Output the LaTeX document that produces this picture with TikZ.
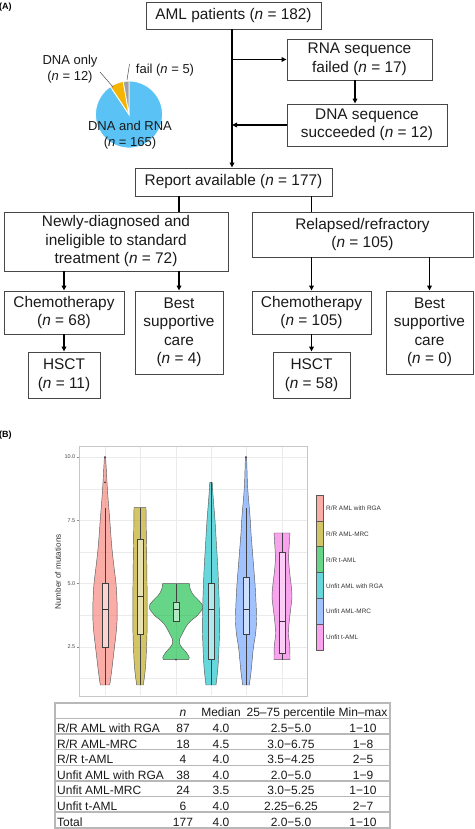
\documentclass[tikz,border=0pt]{standalone}
\usepackage{fontspec}
\setmainfont{Liberation Sans}
\usetikzlibrary{arrows.meta}
\definecolor{pieblue}{HTML}{5BC2F5}
\definecolor{pieyellow}{HTML}{F4B400}
\definecolor{piegrey}{HTML}{A0A0A0}
\definecolor{vA}{HTML}{F8766D}
\definecolor{vB}{HTML}{B79F00}
\definecolor{vC}{HTML}{00BA38}
\definecolor{vD}{HTML}{00BFC4}
\definecolor{vE}{HTML}{619CFF}
\definecolor{vF}{HTML}{F564E3}
\definecolor{txt}{HTML}{1A1A1A}
\definecolor{gridc}{HTML}{EBEBEB}
\definecolor{tline}{HTML}{B8B8B8}
\newcommand\nn{\textit{n}}
\newcommand\myboxplot[6]{%
  \draw[whisk] (#1,#5) -- (#1,#2);
  \draw[whisk] (#1,#4) -- (#1,#6);
  \filldraw[bxs] ({#1-3},#2) rectangle ({#1+3},#4);
  \draw[medl] ({#1-3},#3) -- ({#1+3},#3);}
\newcommand\trow[7]{%
  \node[tl] (#2a) at (57,#1) {#3};
  \node[tc] (#2b) at (183,#1) {#4};
  \node[tc] (#2c) at (221,#1) {#5};
  \node[tc] (#2d) at (291,#1) {#6};
  \node[tc] (#2e) at (363,#1) {#7};}
\begin{document}
\begin{tikzpicture}[x=1pt,y=-1pt,
  box/.style={draw=black!72, line width=0.9pt, inner sep=0pt, align=center,
    font=\fontsize{15.4}{18.5}\selectfont, text=txt},
  arr/.style={-{Triangle[length=5pt,width=4.6pt]}, line width=1.3pt},
  plain/.style={line width=1.3pt},
  pielab/.style={align=center, inner sep=0pt, font=\fontsize{13}{16}\selectfont, text=txt},
  panlab/.style={font=\fontsize{9}{10}\selectfont\bfseries, inner sep=0pt, anchor=west},
  vio/.style={draw=black!65, line width=0.45pt, fill opacity=0.6},
  whisk/.style={draw=black!75, line width=0.45pt},
  bxs/.style={draw=black!75, line width=0.45pt, fill=white, fill opacity=0.5},
  medl/.style={draw=black!80, line width=0.9pt},
  tick/.style={font=\fontsize{5.5}{6}\selectfont, text=black!70, anchor=east, inner sep=0pt},
  leg/.style={font=\fontsize{6.4}{7}\selectfont, text=black!80, anchor=west, inner sep=0pt},
  tl/.style={font=\fontsize{12}{14}\selectfont, text=txt, anchor=base west, inner sep=0pt},
  tc/.style={font=\fontsize{12}{14}\selectfont, text=txt, anchor=base, inner sep=0pt},
  tab/.style={draw=tline, line width=1.4pt}
]
\useasboundingbox (0,0) rectangle (474,829);
\fill[white] (0,0) rectangle (474,829);

% ---------- panel A ----------
\node[panlab] (labA) at (-1,7) {(A)};

\node[box, minimum width=175, minimum height=27] (aml) at (233.5,15.5) {AML patients (\nn{} = 182)};
\node[box, minimum width=145, minimum height=41] (rnaf) at (359.5,59.5) {RNA sequence\\failed (\nn{} = 17)};
\node[box, minimum width=160, minimum height=42] (dnas) at (367,125) {DNA sequence\\succeeded (\nn{} = 12)};
\node[box, minimum width=197, minimum height=28] (rep) at (233.5,182) {Report available (\nn{} = 177)};
\node[box, minimum width=224, minimum height=59] (newly) at (116,241.5) {Newly-diagnosed and\\ineligible to standard\\treatment (\nn{} = 72)};
\node[box, minimum width=221, minimum height=45] (rel) at (362.5,234.5) {Relapsed/refractory\\(\nn{} = 105)};
\node[box, minimum width=120, minimum height=43] (chA) at (64,312.5) {Chemotherapy\\(\nn{} = 68)};
\node[box, minimum width=88, minimum height=83] (bsA) at (179,332.5) {Best\\supportive\\care\\(\nn{} = 4)};
\node[box, minimum width=72, minimum height=46] (hsA) at (64,375) {HSCT\\(\nn{} = 11)};
\node[box, minimum width=119, minimum height=43] (chB) at (311.5,312.5) {Chemotherapy\\(\nn{} = 105)};
\node[box, minimum width=87, minimum height=83] (bsB) at (429.5,332.5) {Best\\supportive\\care\\(\nn{} = 0)};
\node[box, minimum width=77, minimum height=46] (hsB) at (311.5,375) {HSCT\\(\nn{} = 58)};

\coordinate (main) at (232,0);
\coordinate (mid) at (355,0);
\draw[arr] (aml.south -| main) -- (rep.north -| main);
\draw[arr] (rnaf.west -| main) -- (rnaf.west);
\draw[arr] (rnaf.south -| mid) -- (dnas.north -| mid);
\draw[arr] (dnas.west) -- (dnas.west -| main);
\draw[plain] (rep.south -| bsA) -- (newly.north -| bsA);
\draw[plain] (rep.south -| chB) -- (rel.north -| chB);
\draw[arr] (newly.south -| chA) -- (chA.north);
\draw[arr] (newly.south -| bsA) -- (bsA.north);
\draw[arr] (rel.south -| chB) -- (chB.north);
\draw[arr] (rel.south -| bsB) -- (bsB.north);
\draw[arr] (chA.south) -- (hsA.north);
\draw[arr] (chB.south) -- (hsB.north);

% pie
\begin{scope}[shift={(129,114.5)}]
\filldraw[fill=pieblue, draw=white, line width=0.8pt] (0,0) -- (123.6:33.5pt) arc[start angle=123.6, end angle=450, radius=33.5pt] -- cycle;
\filldraw[fill=pieyellow, draw=white, line width=0.8pt] (0,0) -- (99.9:33.5pt) arc[start angle=99.9, end angle=123.6, radius=33.5pt] -- cycle;
\filldraw[fill=piegrey, draw=white, line width=0.8pt] (0,0) -- (90:33.5pt) arc[start angle=90, end angle=99.9, radius=33.5pt] -- cycle;
\end{scope}
\node[pielab] (lonly) at (70,69) {DNA only\\(\nn{} = 12)};
\node[pielab] (lfail) at (165,70) {fail (\nn{} = 5)};
\node[pielab] (lboth) at (130,135) {DNA and RNA\\(\nn{} = 165)};
\coordinate (ponly) at (113,87);
\coordinate (qonly) at (100,72);
\coordinate (pfail) at (127,80);
\coordinate (qfail) at (129.5,64);
\draw[black!70, line width=0.5pt] (qonly) -- (ponly);
\draw[black!70, line width=0.5pt] (qfail) -- (pfail);

% ---------- panel B ----------
\node[panlab] (labB) at (-1,435) {(B)};

\draw[draw=black!22, line width=0.6pt] (79,446) rectangle (307,696);
\begin{scope}[shift={(0,710.3)}, y=25.33pt]
  \foreach \v in {1.25,3.75,6.25,8.75} \draw[gridc, line width=0.3pt] (79.5,\v) -- (306.5,\v);
  \foreach \v in {2.5,5,7.5,10} \draw[gridc, line width=0.6pt] (79.5,\v) -- (306.5,\v);
  \foreach \xx in {105,140,176,211,246,282} \draw[gridc, line width=0.6pt] (\xx,0.59) -- (\xx,10.41);
  \foreach \v/\t in {2.5/2.5,5/5.0,7.5/7.5,10/10.0} {
    \draw[black!45, line width=0.4pt] (76.5,\v) -- (79,\v);
    \node[tick] at (75.5,\v) {\t};
  }
  % violin 1
  \def\c{105}
  \path[vio, fill=vA] plot[smooth] coordinates {({\c+4.7},1) ({\c+6.5},1.5) ({\c+8},2) ({\c+9.5},2.5) ({\c+11},3) ({\c+12},3.5) ({\c+12.2},4) ({\c+11.8},4.5) ({\c+11},5) ({\c+9.5},5.5) ({\c+8},6) ({\c+6.7},6.5) ({\c+5.7},7) ({\c+4.8},7.5) ({\c+3.8},8) ({\c+2.8},8.5) ({\c+2},9) ({\c+1.3},9.5) ({\c+0.6},10)}
    -- plot[smooth] coordinates {({\c-0.6},10) ({\c-1.3},9.5) ({\c-2},9) ({\c-2.8},8.5) ({\c-3.8},8) ({\c-4.8},7.5) ({\c-5.7},7) ({\c-6.7},6.5) ({\c-8},6) ({\c-9.5},5.5) ({\c-11},5) ({\c-11.8},4.5) ({\c-12.2},4) ({\c-12},3.5) ({\c-11},3) ({\c-9.5},2.5) ({\c-8},2) ({\c-6.5},1.5) ({\c-4.7},1)} -- cycle;
  % violin 2
  \def\c{140}
  \path[vio, fill=vB] plot[smooth] coordinates {({\c+3.3},1) ({\c+5},1.5) ({\c+6},2) ({\c+6.5},2.5) ({\c+7},3) ({\c+7.2},4) ({\c+7},5) ({\c+6.7},6) ({\c+6.3},7) ({\c+6},8)}
    -- plot[smooth] coordinates {({\c-6},8) ({\c-6.3},7) ({\c-6.7},6) ({\c-7},5) ({\c-7.2},4) ({\c-7},3) ({\c-6.5},2.5) ({\c-6},2) ({\c-5},1.5) ({\c-3.3},1)} -- cycle;
  % violin 3
  \def\c{176}
  \path[vio, fill=vC] plot[smooth] coordinates {({\c+12.5},2) ({\c+13.2},2.1) ({\c+10},2.3) ({\c+5.5},2.5) ({\c+3.3},2.66) ({\c+4},2.85) ({\c+6.7},3.05) ({\c+10},3.3) ({\c+14},3.5) ({\c+21.5},3.75) ({\c+26.3},4) ({\c+26.5},4.15) ({\c+22.5},4.35) ({\c+17.5},4.55) ({\c+14.5},4.75) ({\c+13.3},5)}
    -- plot[smooth] coordinates {({\c-13.3},5) ({\c-14.5},4.75) ({\c-17.5},4.55) ({\c-22.5},4.35) ({\c-26.5},4.15) ({\c-26.3},4) ({\c-21.5},3.75) ({\c-14},3.5) ({\c-10},3.3) ({\c-6.7},3.05) ({\c-4},2.85) ({\c-3.3},2.66) ({\c-5.5},2.5) ({\c-10},2.3) ({\c-13.2},2.1) ({\c-12.5},2)} -- cycle;
  % violin 4
  \def\c{211}
  \path[vio, fill=vD] plot[smooth] coordinates {({\c+5},1) ({\c+6.5},1.5) ({\c+7.5},2) ({\c+8},2.5) ({\c+8.5},3) ({\c+8.6},3.5) ({\c+8.3},4) ({\c+8},4.5) ({\c+7.5},5) ({\c+7},5.5) ({\c+6.3},6) ({\c+5.5},6.5) ({\c+4.8},7) ({\c+4},7.5) ({\c+3},8) ({\c+2},8.5) ({\c+1.2},9)}
    -- plot[smooth] coordinates {({\c-1.2},9) ({\c-2},8.5) ({\c-3},8) ({\c-4},7.5) ({\c-4.8},7) ({\c-5.5},6.5) ({\c-6.3},6) ({\c-7},5.5) ({\c-7.5},5) ({\c-8},4.5) ({\c-8.3},4) ({\c-8.6},3.5) ({\c-8.5},3) ({\c-8},2.5) ({\c-7.5},2) ({\c-6.5},1.5) ({\c-5},1)} -- cycle;
  % violin 5
  \def\c{246}
  \path[vio, fill=vE] plot[smooth] coordinates {({\c+3.3},1) ({\c+5},1.5) ({\c+6.2},2) ({\c+7.5},2.5) ({\c+9.5},3) ({\c+10.5},3.5) ({\c+10.3},4) ({\c+9.7},4.5) ({\c+9},5) ({\c+8},5.5) ({\c+7},6) ({\c+6},6.5) ({\c+5},7) ({\c+4.3},7.5) ({\c+3.3},8) ({\c+2.2},8.5) ({\c+1.4},9) ({\c+1},9.5) ({\c+0.6},10)}
    -- plot[smooth] coordinates {({\c-0.6},10) ({\c-1},9.5) ({\c-1.4},9) ({\c-2.2},8.5) ({\c-3.3},8) ({\c-4.3},7.5) ({\c-5},7) ({\c-6},6.5) ({\c-7},6) ({\c-8},5.5) ({\c-9},5) ({\c-9.7},4.5) ({\c-10.3},4) ({\c-10.5},3.5) ({\c-9.5},3) ({\c-7.5},2.5) ({\c-6.2},2) ({\c-5},1.5) ({\c-3.3},1)} -- cycle;
  % violin 6
  \def\c{282}
  \path[vio, fill=vF] plot[smooth] coordinates {({\c+8},2) ({\c+7.8},2.5) ({\c+6.5},3) ({\c+7.2},3.5) ({\c+8.7},4) ({\c+10},4.5) ({\c+9},5) ({\c+7.5},5.5) ({\c+6.6},6) ({\c+7.2},6.5) ({\c+8},7)}
    -- plot[smooth] coordinates {({\c-8},7) ({\c-7.2},6.5) ({\c-6.6},6) ({\c-7.5},5.5) ({\c-9},5) ({\c-10},4.5) ({\c-8.7},4) ({\c-7.2},3.5) ({\c-6.5},3) ({\c-7.8},2.5) ({\c-8},2)} -- cycle;
  % box plots
  \myboxplot{105}{2.5}{4}{5}{1}{8}
  \myboxplot{140}{3}{4.5}{6.75}{1}{8}
  \myboxplot{176}{3.5}{4}{4.25}{3.5}{5}
  \myboxplot{211}{2}{4}{5}{1}{9}
  \myboxplot{246}{3}{4}{5.25}{1}{8}
  \myboxplot{282}{2.25}{3.5}{6.25}{2}{7}
  \fill[black!75] (105,9) circle[radius=1pt];
  \fill[black!75] (105,10) circle[radius=1pt];
  \fill[black!75] (176,2) circle[radius=1pt];
  \fill[black!75] (246,10) circle[radius=1pt];
\end{scope}
\node[font=\fontsize{8.1}{9}\selectfont, text=black!80, rotate=90, inner sep=0pt] (ytitle) at (58,572) {Number of mutations};

% legend
\foreach \k/\col/\lab [count=\i from 0] in {vA/vA/R/R AML with RGA, vB/vB/R/R AML-MRC, vC/vC/R/R t-AML, vD/vD/Unfit AML with RGA, vE/vE/Unfit AML-MRC, vF/vF/Unfit t-AML}{
  \filldraw[vio, fill=\col] (316,{495+25.83*\i}) rectangle (323.3,{495+25.83*(\i+1)});
}
\node[leg] (lg1) at (326,508.3) {R/R AML with RGA};
\node[leg] (lg2) at (326,534.1) {R/R AML-MRC};
\node[leg] (lg3) at (326,560) {R/R t-AML};
\node[leg] (lg4) at (326,585.8) {Unfit AML with RGA};
\node[leg] (lg5) at (326,611.6) {Unfit AML-MRC};
\node[leg] (lg6) at (326,637.5) {Unfit t-AML};

% table
\draw[tab] (55,703) rectangle (390,828);
\foreach \yy in {718.5,734,749.6,765.2,780.8,796.4,812} \draw[tab] (55,\yy) -- (390,\yy);
\node[tc] (hn) at (183,716) {\textit{n}};
\node[tc] (hmed) at (221,716) {Median};
\node[tc] (hpc) at (291,716) {25–75 percentile};
\node[tc] (hmm) at (363,716) {Min–max};
\trow{732.4}{ra}{R/R AML with RGA}{87}{4.0}{2.5−5.0}{1−10}
\trow{748}{rb}{R/R AML-MRC}{18}{4.5}{3.0−6.75}{1−8}
\trow{763.6}{rc}{R/R t-AML}{4}{4.0}{3.5−4.25}{2−5}
\trow{779.2}{rd}{Unfit AML with RGA}{38}{4.0}{2.0−5.0}{1−9}
\trow{794.8}{re}{Unfit AML-MRC}{24}{3.5}{3.0−5.25}{1−10}
\trow{810.4}{rf}{Unfit t-AML}{6}{4.0}{2.25−6.25}{2−7}
\trow{826}{rg}{Total}{177}{4.0}{2.0−5.0}{1−10}
\end{tikzpicture}
\end{document}
